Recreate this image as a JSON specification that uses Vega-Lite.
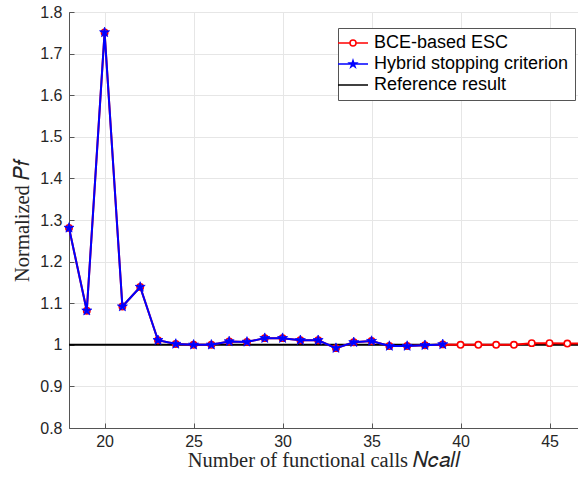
{
  "$schema": "https://vega.github.io/schema/vega-lite/v6.json",
  "width": 509,
  "height": 416,
  "autosize": {"type": "none"},
  "padding": {"left": 69, "top": 12, "right": 0, "bottom": 55},
  "background": "white",
  "view": {"stroke": "#555555", "strokeWidth": 1},
  "datasets": {
    "bce": [
      {"x": 18, "y": 1.281}, {"x": 19, "y": 1.082}, {"x": 20, "y": 1.751}, {"x": 21, "y": 1.092},
      {"x": 22, "y": 1.139}, {"x": 23, "y": 1.011}, {"x": 24, "y": 1.002}, {"x": 25, "y": 1.0},
      {"x": 26, "y": 1.0}, {"x": 27, "y": 1.008}, {"x": 28, "y": 1.007}, {"x": 29, "y": 1.016},
      {"x": 30, "y": 1.016}, {"x": 31, "y": 1.011}, {"x": 32, "y": 1.011}, {"x": 33, "y": 0.992},
      {"x": 34, "y": 1.006}, {"x": 35, "y": 1.009}, {"x": 36, "y": 0.997}, {"x": 37, "y": 0.997},
      {"x": 38, "y": 0.999}, {"x": 39, "y": 1.001}, {"x": 40, "y": 1.0}, {"x": 41, "y": 1.0},
      {"x": 42, "y": 1.0}, {"x": 43, "y": 1.0}, {"x": 44, "y": 1.004}, {"x": 45, "y": 1.004},
      {"x": 46, "y": 1.003}, {"x": 47, "y": 1.003}
    ],
    "hybrid": [
      {"x": 18, "y": 1.281}, {"x": 19, "y": 1.082}, {"x": 20, "y": 1.751}, {"x": 21, "y": 1.092},
      {"x": 22, "y": 1.139}, {"x": 23, "y": 1.011}, {"x": 24, "y": 1.002}, {"x": 25, "y": 1.0},
      {"x": 26, "y": 1.0}, {"x": 27, "y": 1.008}, {"x": 28, "y": 1.007}, {"x": 29, "y": 1.016},
      {"x": 30, "y": 1.016}, {"x": 31, "y": 1.011}, {"x": 32, "y": 1.011}, {"x": 33, "y": 0.992},
      {"x": 34, "y": 1.006}, {"x": 35, "y": 1.009}, {"x": 36, "y": 0.997}, {"x": 37, "y": 0.997},
      {"x": 38, "y": 0.999}, {"x": 39, "y": 1.001}
    ],
    "reference": [{"y": 1.0}],
    "legendrows": [
      {"series": "BCE-based ESC"},
      {"series": "Hybrid stopping criterion"},
      {"series": "Reference result"}
    ]
  },
  "config": {
    "font": "Liberation Sans",
    "axis": {
      "labelFont": "Liberation Sans",
      "labelFontSize": 16,
      "labelColor": "#262626",
      "domainColor": "#555555",
      "tickColor": "#555555",
      "gridColor": "#e6e6e6",
      "gridWidth": 1,
      "titleFont": "Liberation Serif",
      "titleFontSize": 20.5,
      "titleFontWeight": "normal",
      "titleColor": "#262626"
    }
  },
  "layer": [
    {
      "data": {"name": "reference"},
      "mark": {"type": "rule", "color": "#000000", "strokeWidth": 2},
      "encoding": {
        "y": {"field": "y", "type": "quantitative", "scale": {"domain": [0.8, 1.8], "nice": false, "zero": false}}
      }
    },
    {
      "data": {"name": "bce"},
      "mark": {"type": "line", "color": "#ff0000", "strokeWidth": 2},
      "encoding": {
        "x": {"field": "x", "type": "quantitative", "scale": {"domain": [18, 46.6], "nice": false, "zero": false},
          "axis": {"values": [20, 25, 30, 35, 40, 45], "title": "Number of functional calls 𝑁𝑐𝑎𝑙𝑙", "tickSize": -5, "labelPadding": 10, "titlePadding": 1, "grid": true}},
        "y": {"field": "y", "type": "quantitative", "scale": {"domain": [0.8, 1.8], "nice": false, "zero": false},
          "axis": {"values": [0.8, 0.9, 1.0, 1.1, 1.2, 1.3, 1.4, 1.5, 1.6, 1.7, 1.8], "format": "~g", "title": "Normalized 𝑃𝑓", "tickSize": -5, "labelPadding": 12, "titlePadding": 7, "grid": true}}
      }
    },
    {
      "data": {"name": "bce"},
      "mark": {"type": "point", "shape": "circle", "filled": true, "fill": "#ffffff", "stroke": "#ff0000", "strokeWidth": 1.6, "size": 40, "opacity": 1},
      "encoding": {
        "x": {"field": "x", "type": "quantitative"},
        "y": {"field": "y", "type": "quantitative"}
      }
    },
    {
      "data": {"name": "hybrid"},
      "mark": {"type": "line", "color": "#0000ff", "strokeWidth": 2},
      "encoding": {
        "x": {"field": "x", "type": "quantitative"},
        "y": {"field": "y", "type": "quantitative"}
      }
    },
    {
      "data": {"name": "hybrid"},
      "mark": {"type": "point", "shape": "M0,-1L0.223,-0.307L0.951,-0.309L0.361,0.117L0.588,0.809L0,0.38L-0.588,0.809L-0.361,0.117L-0.951,-0.309L-0.223,-0.307Z", "filled": true, "fill": "#0000ff", "stroke": "#0000ff", "strokeWidth": 0.8, "size": 110, "opacity": 1},
      "encoding": {
        "x": {"field": "x", "type": "quantitative"},
        "y": {"field": "y", "type": "quantitative"}
      }
    },
    {
      "data": {"name": "legendrows"},
      "mark": {"type": "point", "filled": false, "opacity": 0, "strokeWidth": 1.5, "size": 36},
      "encoding": {
        "color": {
          "field": "series", "type": "nominal",
          "scale": {"domain": ["BCE-based ESC", "Hybrid stopping criterion", "Reference result"], "range": ["#ff0000", "#0000ff", "#000000"]},
          "legend": {
            "title": null, "orient": "none", "legendX": 269, "legendY": 16,
            "fillColor": "#ffffff", "strokeColor": "#555555", "padding": 6,
            "labelFont": "Liberation Sans", "labelFontSize": 18, "labelColor": "#000000", "labelLimit": 0,
            "symbolOpacity": 1, "symbolStrokeWidth": 1.5, "symbolSize": 36, "rowPadding": 3, "labelOffset": 12
          }
        },
        "shape": {
          "field": "series", "type": "nominal",
          "scale": {"domain": ["BCE-based ESC", "Hybrid stopping criterion", "Reference result"],
            "range": [
              "M-5,0H-1M1,0H5M-1,0A1,1 0 1,0 1,0A1,1 0 1,0 -1,0",
              "M-5,0H5M0,-1.2L0.27,-0.37L1.14,-0.37L0.43,0.14L0.71,0.97L0,0.46L-0.71,0.97L-0.43,0.14L-1.14,-0.37L-0.27,-0.37Z",
              "M-5,0H5"
            ]},
          "legend": {
            "title": null, "orient": "none", "legendX": 269, "legendY": 16,
            "fillColor": "#ffffff", "strokeColor": "#555555", "padding": 6,
            "labelFont": "Liberation Sans", "labelFontSize": 18, "labelColor": "#000000", "labelLimit": 0,
            "symbolOpacity": 1, "symbolStrokeWidth": 1.5, "symbolSize": 36, "rowPadding": 3, "labelOffset": 12
          }
        }
      }
    }
  ]
}
